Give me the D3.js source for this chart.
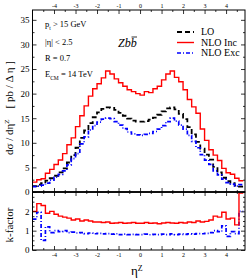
<!DOCTYPE html>
<html><head><meta charset="utf-8">
<script src="https://cdn.jsdelivr.net/npm/d3@7"></script>
<style>
html,body{margin:0;padding:0;background:#fff;}
svg{display:block;font-family:"Liberation Serif","DejaVu Serif",serif;}
</style></head>
<body><svg id="c" width="249" height="279"></svg>
<script>
// ---- data ----
const etaStart = -5.0;          // first bin edge
const etaWidth = 0.2;           // bin width
const xTicks = [-4,-3,-2,-1,0,1,2,3,4];
const yTicksMain = [0,5,10,15,20,25,30,35];
const yTicksK = [0,1,2];
const seriesNames = ["LO","NLO Inc","NLO Exc"];

const lo = [1.2,1.5,1.8,2.3,2.8,3.3,4.0,4.8,6.0,7.5,9.0,11.0,12.5,14.0,15.2,16.2,16.9,17.2,17.1,16.7,16.1,15.5,14.9,14.5,14.3,
            14.3,14.4,14.7,15.1,15.7,16.4,17.0,17.2,16.8,15.9,14.8,13.2,11.7,10.2,8.8,7.6,6.6,5.1,4.0,2.9,2.2,1.8,1.3,1.1];
const nloInc = [2.0,2.5,2.7,3.8,4.6,5.6,6.5,7.8,9.6,11.0,13.3,15.5,17.5,19.5,21.0,22.0,23.2,24.6,24.0,23.0,22.2,21.5,20.8,20.4,20.0,
                19.7,20.4,20.2,21.0,21.5,22.8,24.0,24.6,23.3,22.4,20.8,18.8,17.3,16.0,12.8,10.5,8.6,7.5,6.4,4.8,3.9,3.6,2.8,2.3];
const nloExc = [1.1,1.2,1.4,1.8,2.4,3.0,3.6,4.3,5.5,6.8,7.8,9.8,11.2,12.6,13.5,14.2,14.8,15.0,14.9,14.3,13.6,12.9,12.2,11.8,11.6,
                11.5,11.7,11.9,12.3,12.8,13.5,14.3,15.0,14.4,13.6,12.8,11.5,10.3,9.0,7.6,6.5,5.6,4.3,3.5,2.6,1.9,1.6,1.2,1.5];
const kInc = [2.0,2.4,2.3,1.9,2.0,1.85,1.75,1.7,1.65,1.55,1.6,1.5,1.55,1.5,1.45,1.45,1.42,1.45,1.38,1.4,1.42,1.38,1.4,1.42,1.38,
              1.38,1.42,1.38,1.4,1.36,1.4,1.42,1.4,1.38,1.42,1.4,1.45,1.42,1.5,1.45,1.48,1.55,1.75,1.7,1.95,1.6,1.65,1.3,2.95];
const kExc = [1.6,1.95,0.5,1.2,0.9,1.0,0.95,1.0,0.9,0.92,0.88,0.9,0.85,0.88,0.84,0.86,0.83,0.85,0.82,0.84,0.8,0.82,0.8,0.81,0.8,
              0.8,0.82,0.79,0.81,0.8,0.82,0.8,0.83,0.8,0.82,0.81,0.83,0.82,0.85,0.84,0.86,0.9,1.0,0.95,1.25,0.7,0.95,0.85,2.0];

// ---- layout ----
const L=32.5, R=245, T=10, M=192, B=250;
const svg = d3.select("#c");
const x = d3.scaleLinear().domain([-5, 4.88]).range([L, R]);
const yM = d3.scaleLinear().domain([0, 37]).range([M, T]);
const yK = d3.scaleLinear().domain([0, 3]).range([B, M]);

const defs = svg.append("defs");
defs.append("clipPath").attr("id","cm").append("rect").attr("x",L).attr("y",T).attr("width",R-L).attr("height",M-T);
defs.append("clipPath").attr("id","ck").append("rect").attr("x",L).attr("y",M).attr("width",R-L).attr("height",B-M);

function stepPts(vals){
  const pts=[];
  vals.forEach((v,i)=>{const e0=etaStart+i*etaWidth; pts.push([e0,v]); pts.push([e0+etaWidth,v]);});
  return pts;
}
function drawHist(g, vals, ys, color, dash, w){
  const line = d3.line().x(d=>x(d[0])).y(d=>ys(d[1]));
  g.append("path").attr("d", line(stepPts(vals))).attr("fill","none")
   .attr("stroke",color).attr("stroke-width",w).attr("stroke-dasharray",dash||null);
}
const gm = svg.append("g").attr("clip-path","url(#cm)");
drawHist(gm, lo, yM, "#000", "5,3", 1.8);
drawHist(gm, nloExc, yM, "#0000ff", "4,2,1,2", 1.7);
drawHist(gm, nloInc, yM, "#ff0000", null, 1.4);
const gk = svg.append("g").attr("clip-path","url(#ck)");
drawHist(gk, kExc, yK, "#0000ff", "4,2,1,2", 1.7);
drawHist(gk, kInc, yK, "#ff0000", null, 1.4);

// ---- axes ----
const xMinor = d3.range(-4.5, 4.9, 0.5).filter(v=>Math.abs(v-Math.round(v))>0.01);
function ax(gen, tx, ty, fs){
  const g = svg.append("g").attr("transform",`translate(${tx},${ty})`).call(gen);
  g.select(".domain").remove();
  g.selectAll("line").attr("stroke","#000").attr("stroke-width",0.8);
  g.selectAll("text").attr("font-family","Liberation Serif").attr("font-size",fs).attr("fill","#000");
  return g;
}
// x axes
ax(d3.axisTop(x).tickValues(xTicks).tickSizeInner(-4).tickSizeOuter(0).tickPadding(2).tickFormat(d=>d), 0, T, 6);
ax(d3.axisTop(x).tickValues(xMinor).tickSizeInner(-2).tickSizeOuter(0).tickFormat(""), 0, T, 6);
ax(d3.axisBottom(x).tickValues(xTicks).tickSizeInner(-4).tickSizeOuter(0).tickFormat(""), 0, M, 6);
ax(d3.axisBottom(x).tickValues(xMinor).tickSizeInner(-2).tickSizeOuter(0).tickFormat(""), 0, M, 6);
ax(d3.axisTop(x).tickValues(xTicks).tickSizeInner(-4).tickSizeOuter(0).tickFormat(""), 0, M, 6);
ax(d3.axisTop(x).tickValues(xMinor).tickSizeInner(-2).tickSizeOuter(0).tickFormat(""), 0, M, 6);
ax(d3.axisBottom(x).tickValues(xTicks).tickSizeInner(-4).tickSizeOuter(0).tickPadding(3).tickFormat(d=>d), 0, B, 6);
ax(d3.axisBottom(x).tickValues(xMinor).tickSizeInner(-2).tickSizeOuter(0).tickFormat(""), 0, B, 6);
// y main
const yMinorM = d3.range(2.5, 37, 5);
ax(d3.axisLeft(yM).tickValues(yTicksMain).tickSizeInner(-4).tickSizeOuter(0).tickPadding(3).tickFormat(d=>d), L, 0, 9);
ax(d3.axisLeft(yM).tickValues(yMinorM).tickSizeInner(-2).tickSizeOuter(0).tickFormat(""), L, 0, 9);
ax(d3.axisRight(yM).tickValues(yTicksMain).tickSizeInner(-4).tickSizeOuter(0).tickFormat(""), R, 0, 9);
ax(d3.axisRight(yM).tickValues(yMinorM).tickSizeInner(-2).tickSizeOuter(0).tickFormat(""), R, 0, 9);
// y k
const yMinorK = d3.range(0.25, 3, 0.25).filter(v=>Math.abs(v-Math.round(v))>0.01);
ax(d3.axisLeft(yK).tickValues(yTicksK).tickSizeInner(-4).tickSizeOuter(0).tickPadding(3).tickFormat(d=>d), L, 0, 9);
ax(d3.axisLeft(yK).tickValues(yMinorK).tickSizeInner(-2).tickSizeOuter(0).tickFormat(""), L, 0, 9);
ax(d3.axisRight(yK).tickValues(yTicksK).tickSizeInner(-4).tickSizeOuter(0).tickFormat(""), R, 0, 9);
ax(d3.axisRight(yK).tickValues(yMinorK).tickSizeInner(-2).tickSizeOuter(0).tickFormat(""), R, 0, 9);

// frames
svg.append("rect").attr("x",L).attr("y",T).attr("width",R-L).attr("height",M-T).attr("fill","none").attr("stroke","#000").attr("stroke-width",1);
svg.append("rect").attr("x",L).attr("y",M).attr("width",R-L).attr("height",B-M).attr("fill","none").attr("stroke","#000").attr("stroke-width",1);
svg.append("line").attr("x1",L).attr("x2",R).attr("y1",M).attr("y2",M).attr("stroke","#000").attr("stroke-width",1.6);

// ---- labels ----
const yl = svg.append("text").attr("transform","translate(13,108) rotate(-90)").attr("text-anchor","middle")
  .attr("font-size",11).attr("xml:space","preserve");
yl.append("tspan").text("dσ / dη");
yl.append("tspan").attr("baseline-shift","super").attr("font-size",7).text("Z");
yl.append("tspan").text("    [ pb / Δ η ]");
svg.append("text").attr("transform","translate(13,225) rotate(-90)").attr("text-anchor","middle")
  .attr("font-size",11).text("k-factor");
const xl = svg.append("text").attr("x",131).attr("y",275).attr("font-size",13);
xl.append("tspan").text("η");
xl.append("tspan").attr("baseline-shift","super").attr("font-size",8).text("Z");

// annotations
const a1 = svg.append("text").attr("x",45).attr("y",27).attr("font-size",8.5);
a1.append("tspan").text("p");
a1.append("tspan").attr("baseline-shift","sub").attr("font-size",5.5).text("t");
a1.append("tspan").text(" > 15 GeV");
svg.append("text").attr("x",45).attr("y",45).attr("font-size",8.5).text("|η| < 2.5");
svg.append("text").attr("x",45).attr("y",61).attr("font-size",8.5).text("R = 0.7");
const a4 = svg.append("text").attr("x",45).attr("y",77).attr("font-size",8.5);
a4.append("tspan").text("E");
a4.append("tspan").attr("baseline-shift","sub").attr("font-size",5.5).text("CM");
a4.append("tspan").text(" = 14 TeV");
const zt = svg.append("text").attr("x",118).attr("y",47).attr("font-size",12).attr("font-style","italic");
zt.append("tspan").text("Zb");
zt.append("tspan").text("b");
// overline on last b
svg.append("line").attr("x1",131.5).attr("x2",137).attr("y1",37).attr("y2",37).attr("stroke","#000").attr("stroke-width",0.8);

// legend
const leg = [{c:"#000",d:"5,3",w:1.8},{c:"#ff0000",d:null,w:1.4},{c:"#0000ff",d:"4,2,1,2",w:1.7}];
seriesNames.forEach((n,i)=>{
  const yy = 32 + i*10.5;
  svg.append("line").attr("x1",177).attr("x2",194).attr("y1",yy).attr("y2",yy)
    .attr("stroke",leg[i].c).attr("stroke-width",leg[i].w).attr("stroke-dasharray",leg[i].d);
  svg.append("text").attr("x",201).attr("y",yy+3.4).attr("font-size",10).text(n);
});
</script></body></html>
